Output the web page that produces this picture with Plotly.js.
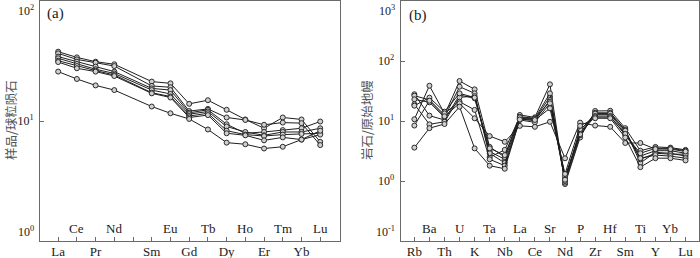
<!DOCTYPE html>
<html>
<head>
<meta charset="utf-8">
<script src="https://cdn.plot.ly/plotly-3.0.1.min.js"></script>
<style>
html,body{margin:0;padding:0;background:#fff;}
#chart{width:700px;height:258px;}
</style>
</head>
<body>
<div id="chart"></div>
<script>
// ---------- Panel (a): chondrite-normalised REE ----------
const reeCats = ['La','Ce','Pr','Nd','Pm','Sm','Eu','Gd','Tb','Dy','Ho','Er','Tm','Yb','Lu'];
const reeLower = ['La','Pr','Sm','Gd','Dy','Er','Yb'];
const reeUpper = ['Ce','Nd','Eu','Tb','Ho','Tm','Lu'];
const reeS1 = [37.8, 33.9, 31.2, 29.7, null, 21.3, 20.6, 13.9, 14.9, 12.4, 10.3, 8.7, 10.7, 10.3, 6.7];
const reeS2 = [36.6, 32.6, 30.6, 28.7, null, 19.6, 19.1, 12.1, 12.6, 10.7, 10.2, 9.3, 9.7, 9.6, 6.3];
const reeS3 = [34.4, 31.2, 28.4, 25.8, null, 18.7, 18.1, 11.7, 12.4, 9.4, 7.9, 8.1, 8.4, 8.7, 9.9];
const reeS4 = [33.3, 29.9, 27.0, 24.9, null, 18.1, 16.8, 11.4, 12.0, 9.0, 8.1, 7.6, 8.1, 8.1, 8.7];
const reeS5 = [31.8, 28.7, 26.3, 24.2, null, 17.2, 16.0, 11.0, 11.6, 8.3, 7.7, 7.5, 7.7, 7.8, 7.9];
const reeS6 = [31.0, 27.5, 25.8, 23.7, null, 17.0, 15.7, 10.7, 11.2, 7.9, 7.6, 6.9, 7.3, 7.0, 7.7];
const reeS7 = [25.8, 22.4, 19.8, 18.1, null, 13.2, 11.6, 10.4, 8.5, 6.6, 6.4, 5.9, 6.1, 7.0, 8.3];
const reeSeries = [reeS1, reeS2, reeS3, reeS4, reeS5, reeS6, reeS7];

// ---------- Panel (b): primitive-mantle-normalised spider ----------
const pmCats = ['Rb','Ba','Th','U','K','Ta','Nb','La','Ce','Sr','Nd','P','Zr','Hf','Sm','Ti','Y','Yb','Lu'];
const pmLower = ['Rb','Th','K','Nb','Ce','Nd','Zr','Sm','Y','Lu'];
const pmUpper = ['Ba','U','Ta','La','Sr','P','Hf','Ti','Yb'];
const pmB1 = [27.9, 12.3, 10.4, 27.1, 23.9, 3.1, 2.3, 11.1, 10.7, 25.4, 1.09, 6.4, 12.9, 12.9, 6.4, 2.6, 3.2, 3.2, 2.9];
const pmB2 = [26.4, 22.5, 12.6, 46.4, 33.7, 3.7, 2.5, 12.6, 11.5, 40.9, 0.89, 5.3, 14.7, 14.8, 7.6, 3.2, 3.7, 3.6, 3.3];
const pmB3 = [23.0, 20.5, 11.5, 37.3, 28.9, 2.5, 3.3, 11.8, 11.1, 28.9, 0.94, 5.8, 13.7, 13.7, 7.1, 2.0, 3.0, 2.9, 2.6];
const pmB4 = [19.0, 8.8, 9.7, 24.8, 26.0, 2.9, 2.0, 10.9, 10.1, 22.4, 1.0, 6.9, 13.3, 13.3, 6.9, 2.3, 2.9, 2.8, 2.8];
const pmB5 = [18.0, 24.5, 14.3, 28.9, 24.5, 3.5, 2.7, 11.5, 10.9, 21.0, 1.20, 6.0, 12.1, 12.1, 5.8, 2.9, 3.5, 3.5, 3.2];
const pmB6 = [10.7, 38.7, 13.4, 21.0, 15.3, 2.3, 1.8, 10.4, 9.5, 19.7, 1.05, 7.3, 11.6, 11.6, 6.1, 2.4, 2.7, 2.6, 2.4];
const pmB7 = [8.4, 21.8, 12.0, 19.7, 11.1, 5.6, 4.5, 8.3, 8.0, 9.7, 2.39, 9.4, 8.4, 8.0, 4.3, 4.3, 3.4, 3.4, 3.1];
const pmB8 = [3.6, 7.6, 8.9, 17.3, 3.5, 1.8, 1.6, 10.6, 10.4, 16.3, 1.31, 8.3, 11.1, 11.1, 5.3, 1.7, 2.4, 2.4, 2.2];
const pmSeries = [pmB1, pmB2, pmB3, pmB4, pmB5, pmB6, pmB7, pmB8];

// y tick values / labels; the labels at the two range ends are drawn just inside the frame
const yMidA = [10], yMidTextA = ['10<sup>1</sup>'];
const yEndA = [2, 0], yEndTextA = ['10<sup>2</sup>', '10<sup>0</sup>'];   // log10 of 100 and 1
const yMidB = [1, 10, 100], yMidTextB = ['10<sup>0</sup>', '10<sup>1</sup>', '10<sup>2</sup>'];
const yEndB = [3, -1], yEndTextB = ['10<sup>3</sup>', '10<sup>-1</sup>'];  // log10 of 1000 and 0.1

const SERIF = 'Liberation Serif, Times New Roman, serif';
const CJK = 'Noto Sans CJK SC, sans-serif';
const FRAME = '#6a6a6a';
const INK = '#1a1a1a';

function mkTrace(x, y, xa, ya) {
  return {
    x: x, y: y, xaxis: xa, yaxis: ya, type: 'scatter', mode: 'lines+markers',
    connectgaps: true, showlegend: false, hoverinfo: 'skip',
    line: {color: '#1e1e1e', width: 1},
    marker: {symbol: 'circle', size: 5, color: '#cfcfcf', line: {color: '#2a2a2a', width: 1}}
  };
}

const traces = [];
reeSeries.forEach(s => traces.push(mkTrace(reeCats, s, 'x', 'y')));
pmSeries.forEach(s => traces.push(mkTrace(pmCats, s, 'x2', 'y2')));

const xCommon = {
  type: 'category', showline: true, mirror: true, linecolor: FRAME, linewidth: 1,
  ticks: 'inside', ticklen: 4, tickcolor: FRAME, tickwidth: 1, showgrid: false, zeroline: false,
  tickmode: 'array', tickfont: {family: SERIF, size: 13, color: INK}, ticklabelstandoff: -2
};
const yCommon = {
  type: 'log', showline: true, mirror: true, linecolor: FRAME, linewidth: 1,
  ticks: 'inside', ticklen: 4, tickcolor: FRAME, tickwidth: 1, showgrid: false, zeroline: false,
  tickmode: 'array', tickfont: {family: SERIF, size: 12, color: INK}, ticklabelstandoff: 3
};

const W = 700;
const annotations = [];
reeUpper.forEach(c => annotations.push({
  x: c, xref: 'x', y: 0.054, yref: 'paper', text: c, showarrow: false,
  xanchor: 'center', yanchor: 'middle', font: {family: SERIF, size: 13, color: INK}
}));
pmUpper.forEach(c => annotations.push({
  x: c, xref: 'x2', y: 0.054, yref: 'paper', text: c, showarrow: false,
  xanchor: 'center', yanchor: 'middle', font: {family: SERIF, size: 13, color: INK}
}));
yEndA.forEach((v, i) => annotations.push({
  x: 36 / W, xref: 'paper', y: v, yref: 'y', text: yEndTextA[i], showarrow: false,
  xanchor: 'right', yanchor: i === 0 ? 'top' : 'bottom', font: {family: SERIF, size: 12, color: INK}
}));
yEndB.forEach((v, i) => annotations.push({
  x: 396.5 / W, xref: 'paper', y: v, yref: 'y2', text: yEndTextB[i], showarrow: false,
  xanchor: 'right', yanchor: i === 0 ? 'top' : 'bottom', font: {family: SERIF, size: 12, color: INK}
}));
annotations.push({x: 45 / W, xref: 'paper', y: 0.946, yref: 'paper', text: '(a)', showarrow: false,
  xanchor: 'left', yanchor: 'middle', font: {family: SERIF, size: 15, color: INK}});
annotations.push({x: 407 / W, xref: 'paper', y: 0.94, yref: 'paper', text: '(b)', showarrow: false,
  xanchor: 'left', yanchor: 'middle', font: {family: SERIF, size: 15, color: INK}});
annotations.push({x: 10 / W, xref: 'paper', y: 0.504, yref: 'paper', text: '样品/球粒陨石', showarrow: false,
  textangle: -90, xanchor: 'center', yanchor: 'middle', font: {family: CJK, size: 12.5, color: '#555'}});
annotations.push({x: 366 / W, xref: 'paper', y: 0.504, yref: 'paper', text: '岩石/原始地幔', showarrow: false,
  textangle: -90, xanchor: 'center', yanchor: 'middle', font: {family: CJK, size: 12.5, color: '#555'}});

const layout = {
  width: 700, height: 258,
  margin: {l: 0, r: 0, t: 1, b: 17, pad: 0},
  paper_bgcolor: '#fff', plot_bgcolor: '#fff',
  showlegend: false,
  xaxis: Object.assign({}, xCommon, {
    domain: [40 / W, 339.5 / W], range: [-0.97, 15.03],
    tickvals: reeCats, ticktext: reeCats.map(c => reeLower.includes(c) ? c : ''),
    anchor: 'y'
  }),
  yaxis: Object.assign({}, yCommon, {
    domain: [0, 1], range: [0, 2], tickvals: yMidA, ticktext: yMidTextA, anchor: 'x'
  }),
  xaxis2: Object.assign({}, xCommon, {
    domain: [400.5 / W, 698.5 / W], range: [-0.92, 18.86],
    tickvals: pmCats, ticktext: pmCats.map(c => pmLower.includes(c) ? c : ''),
    anchor: 'y2'
  }),
  yaxis2: Object.assign({}, yCommon, {
    domain: [0, 1], range: [-1, 3], tickvals: yMidB, ticktext: yMidTextB, anchor: 'x2'
  }),
  annotations: annotations
};

Plotly.newPlot('chart', traces, layout, {displayModeBar: false, staticPlot: true});
</script>
</body>
</html>
